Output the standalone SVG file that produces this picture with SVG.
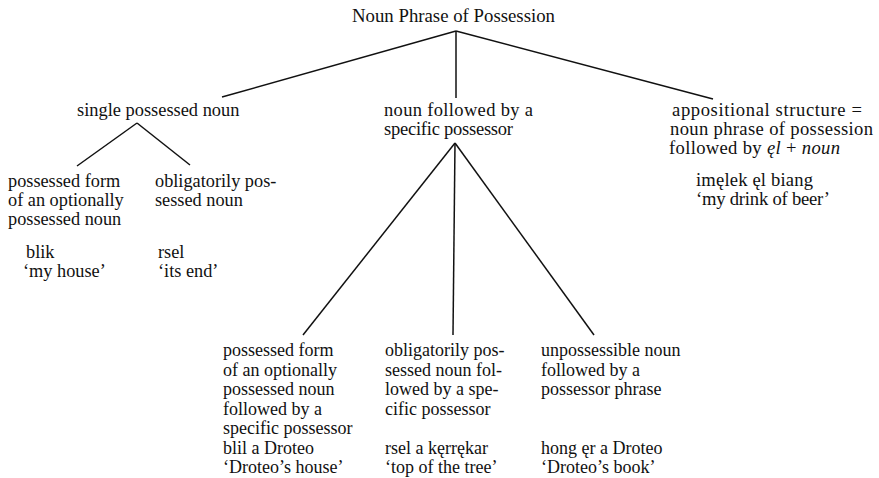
<svg xmlns="http://www.w3.org/2000/svg" width="879" height="478" viewBox="0 0 879 478" font-family="'Liberation Serif', 'DejaVu Serif', serif" font-size="18">
<style>
text{font-family:'Liberation Serif','DejaVu Serif',serif;fill:#111}
.c line{stroke:#111;stroke-width:1.5}
</style>
<rect width="879" height="478" fill="#fff"/>
<g class="c" id="connectors">
<line x1="456" y1="31" x2="222" y2="97"/>
<line x1="456" y1="31" x2="456" y2="98"/>
<line x1="456" y1="31" x2="713" y2="99"/>
<line x1="137" y1="123" x2="77" y2="166"/>
<line x1="137" y1="123" x2="190" y2="165"/>
<line x1="455" y1="143" x2="303" y2="335"/>
<line x1="455" y1="143" x2="453" y2="335"/>
<line x1="455" y1="143" x2="594" y2="335"/>
</g>
<g id="root" font-size="18.8"><text x="453.5" y="22" text-anchor="middle">Noun Phrase of Possession</text></g>
<g id="single" font-size="18.4"><text x="77" y="116">single possessed noun</text></g>
<g id="followed" font-size="18.5"><text x="384" y="116" textLength="149" lengthAdjust="spacing">noun followed by a</text><text x="384" y="135" textLength="129" lengthAdjust="spacing">specific possessor</text></g>
<g id="appositional" font-size="18.6"><text x="672" y="116" textLength="190" lengthAdjust="spacing">appositional structure =</text><text x="670" y="135" textLength="203" lengthAdjust="spacing">noun phrase of possession</text><text x="669" y="154" textLength="171" lengthAdjust="spacing">followed by <tspan font-style="italic">ęl</tspan> + <tspan font-style="italic">noun</tspan></text>
<text x="696" y="186" textLength="117" lengthAdjust="spacing">imęlek ęl biang</text><text x="696" y="205" textLength="134" lengthAdjust="spacing">‘my drink of beer’</text></g>
<g id="possessed-form" font-size="18.3"><text x="8" y="187">possessed form</text><text x="8" y="206">of an optionally</text><text x="8" y="225">possessed noun</text>
<text x="26" y="258">blik</text><text x="23" y="277">‘my house’</text></g>
<g id="obligatorily" font-size="18.3"><text x="155" y="187">obligatorily pos-</text><text x="155" y="206">sessed noun</text>
<text x="158" y="258">rsel</text><text x="158" y="277">‘its end’</text></g>
<g id="possessed-form-2" font-size="18"><text x="223" y="356">possessed form</text><text x="223" y="375.5">of an optionally</text><text x="223" y="395">possessed noun</text><text x="223" y="414.5">followed by a</text><text x="223" y="434">specific possessor</text><text x="223" y="453.5">blil a Droteo</text><text x="223" y="473">‘Droteo’s house’</text></g>
<g id="obligatorily-2" font-size="18"><text x="385" y="356">obligatorily pos-</text><text x="385" y="375.5">sessed noun fol-</text><text x="385" y="395">lowed by a spe-</text><text x="385" y="414.5">cific possessor</text><text x="385" y="453.5">rsel a kęrrękar</text><text x="385" y="473">‘top of the tree’</text></g>
<g id="unpossessible" font-size="18"><text x="541" y="356">unpossessible noun</text><text x="541" y="375.5">followed by a</text><text x="541" y="395">possessor phrase</text><text x="541" y="453.5">hong ęr a Droteo</text><text x="541" y="473">‘Droteo’s book’</text></g>
</svg>
